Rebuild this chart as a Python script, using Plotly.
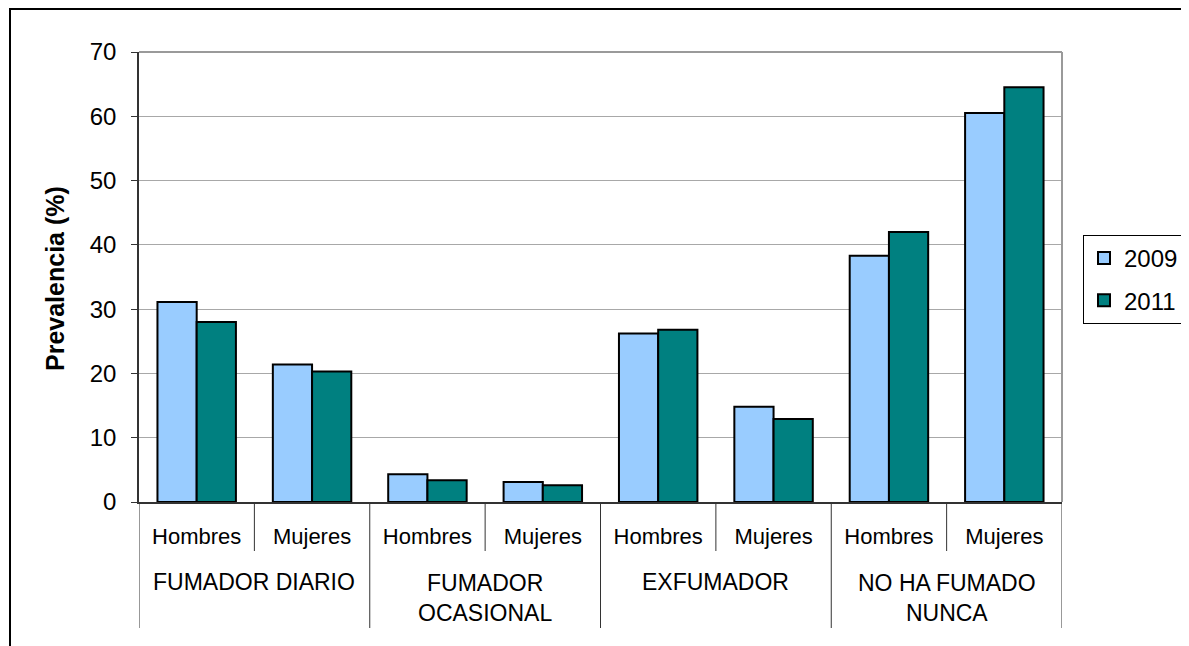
import plotly.graph_objects as go

groups = ["FUMADOR DIARIO", "FUMADOR<br>OCASIONAL", "EXFUMADOR", "NO HA FUMADO<br>NUNCA"]
sexes = ["Hombres", "Mujeres"]
years = ["2009", "2011"]
v2009 = [31.1, 21.4, 4.3, 3.1, 26.2, 14.8, 38.3, 60.5]
v2011 = [28.0, 20.3, 3.4, 2.6, 26.8, 12.9, 42.0, 64.5]
colors = ["#99CCFF", "#008080"]
yticks = [0, 10, 20, 30, 40, 50, 60, 70]

OFF = 8  # page body margin
W, H = 1189 - OFF, 646 - OFF
L, R, T, B = 139 - OFF, 1062 - OFF, 52 - OFF, 502 - OFF
pw, ph = R - L, B - T


def px(xp):
    return (xp - OFF - L) / pw


def py(yp):
    return (B - (yp - OFF)) / ph


n = len(groups) * len(sexes)
xpos = list(range(n))
sub_labels = [s for g in groups for s in sexes]

fig = go.Figure()
for yr, vals, c in zip(years, [v2009, v2011], colors):
    fig.add_trace(go.Bar(
        x=xpos, y=vals, name=yr, legendgroup=yr,
        marker=dict(color=c, line=dict(color="black", width=2)),
    ))

shapes = []
# outer frame
shapes.append(dict(type="rect", xref="paper", yref="paper",
                   x0=px(10), x1=px(1200), y0=py(660), y1=py(9),
                   line=dict(color="black", width=2), layer="below"))
# plot area grey top/right border
shapes.append(dict(type="line", xref="paper", yref="paper", x0=0, x1=1, y0=1, y1=1,
                   line=dict(color="#9a9a9a", width=2)))
shapes.append(dict(type="line", xref="paper", yref="paper", x0=1, x1=1, y0=0, y1=1,
                   line=dict(color="#9a9a9a", width=2)))
# category separators
for i in range(n + 1):
    xb = i - 0.5
    long_line = (i % len(sexes) == 0)
    shapes.append(dict(type="line", xref="x", yref="paper", x0=xb, x1=xb,
                       y0=0, y1=py(628) if long_line else py(551),
                       line=dict(color="#333333", width=1)))

annotations = []
for gi, g in enumerate(groups):
    lines = g.count("<br>") + 1
    cy = 582 + (lines - 1) * 15.5
    annotations.append(dict(xref="x", yref="paper", x=gi * len(sexes) + 0.5, y=py(cy),
                            text=g, showarrow=False, xanchor="center", yanchor="middle",
                            font=dict(family="Liberation Sans, Arial", size=23, color="black")))
annotations.append(dict(xref="paper", yref="paper", x=px(55), y=py(279), text="<b>Prevalencia (%)</b>",
                        textangle=-90, showarrow=False, xanchor="center", yanchor="middle",
                        font=dict(family="Liberation Sans, Arial", size=25, color="black")))

fig.update_layout(
    width=W, height=H,
    margin=dict(l=L, r=W - R, t=T, b=H - B, autoexpand=False),
    paper_bgcolor="white", plot_bgcolor="white",
    barmode="group", bargap=0.32, bargroupgap=0,
    showlegend=True,
    legend=dict(x=px(1083), y=py(235), xanchor="left", yanchor="top",
                bordercolor="black", borderwidth=1, bgcolor="white",
                font=dict(family="Liberation Sans, Arial", size=24, color="black"),
                tracegroupgap=8, itemwidth=30),
    shapes=shapes, annotations=annotations,
    xaxis=dict(range=[-0.5, n - 0.5], tickvals=xpos, ticktext=sub_labels, ticks="",
               showgrid=False, showline=True, linecolor="#333333", linewidth=1.5,
               zeroline=False, ticklabelstandoff=14,
               tickfont=dict(family="Liberation Sans, Arial", size=22, color="black")),
    yaxis=dict(range=[0, 70], tickvals=yticks, ticks="outside", ticklen=6, tickcolor="#333333",
               showgrid=True, gridcolor="#a8a8a8", gridwidth=1, zeroline=False,
               showline=True, linecolor="#333333", linewidth=1.5, ticklabelstandoff=10,
               tickfont=dict(family="Liberation Sans, Arial", size=24, color="black")),
)

fig.write_html("out.html")
